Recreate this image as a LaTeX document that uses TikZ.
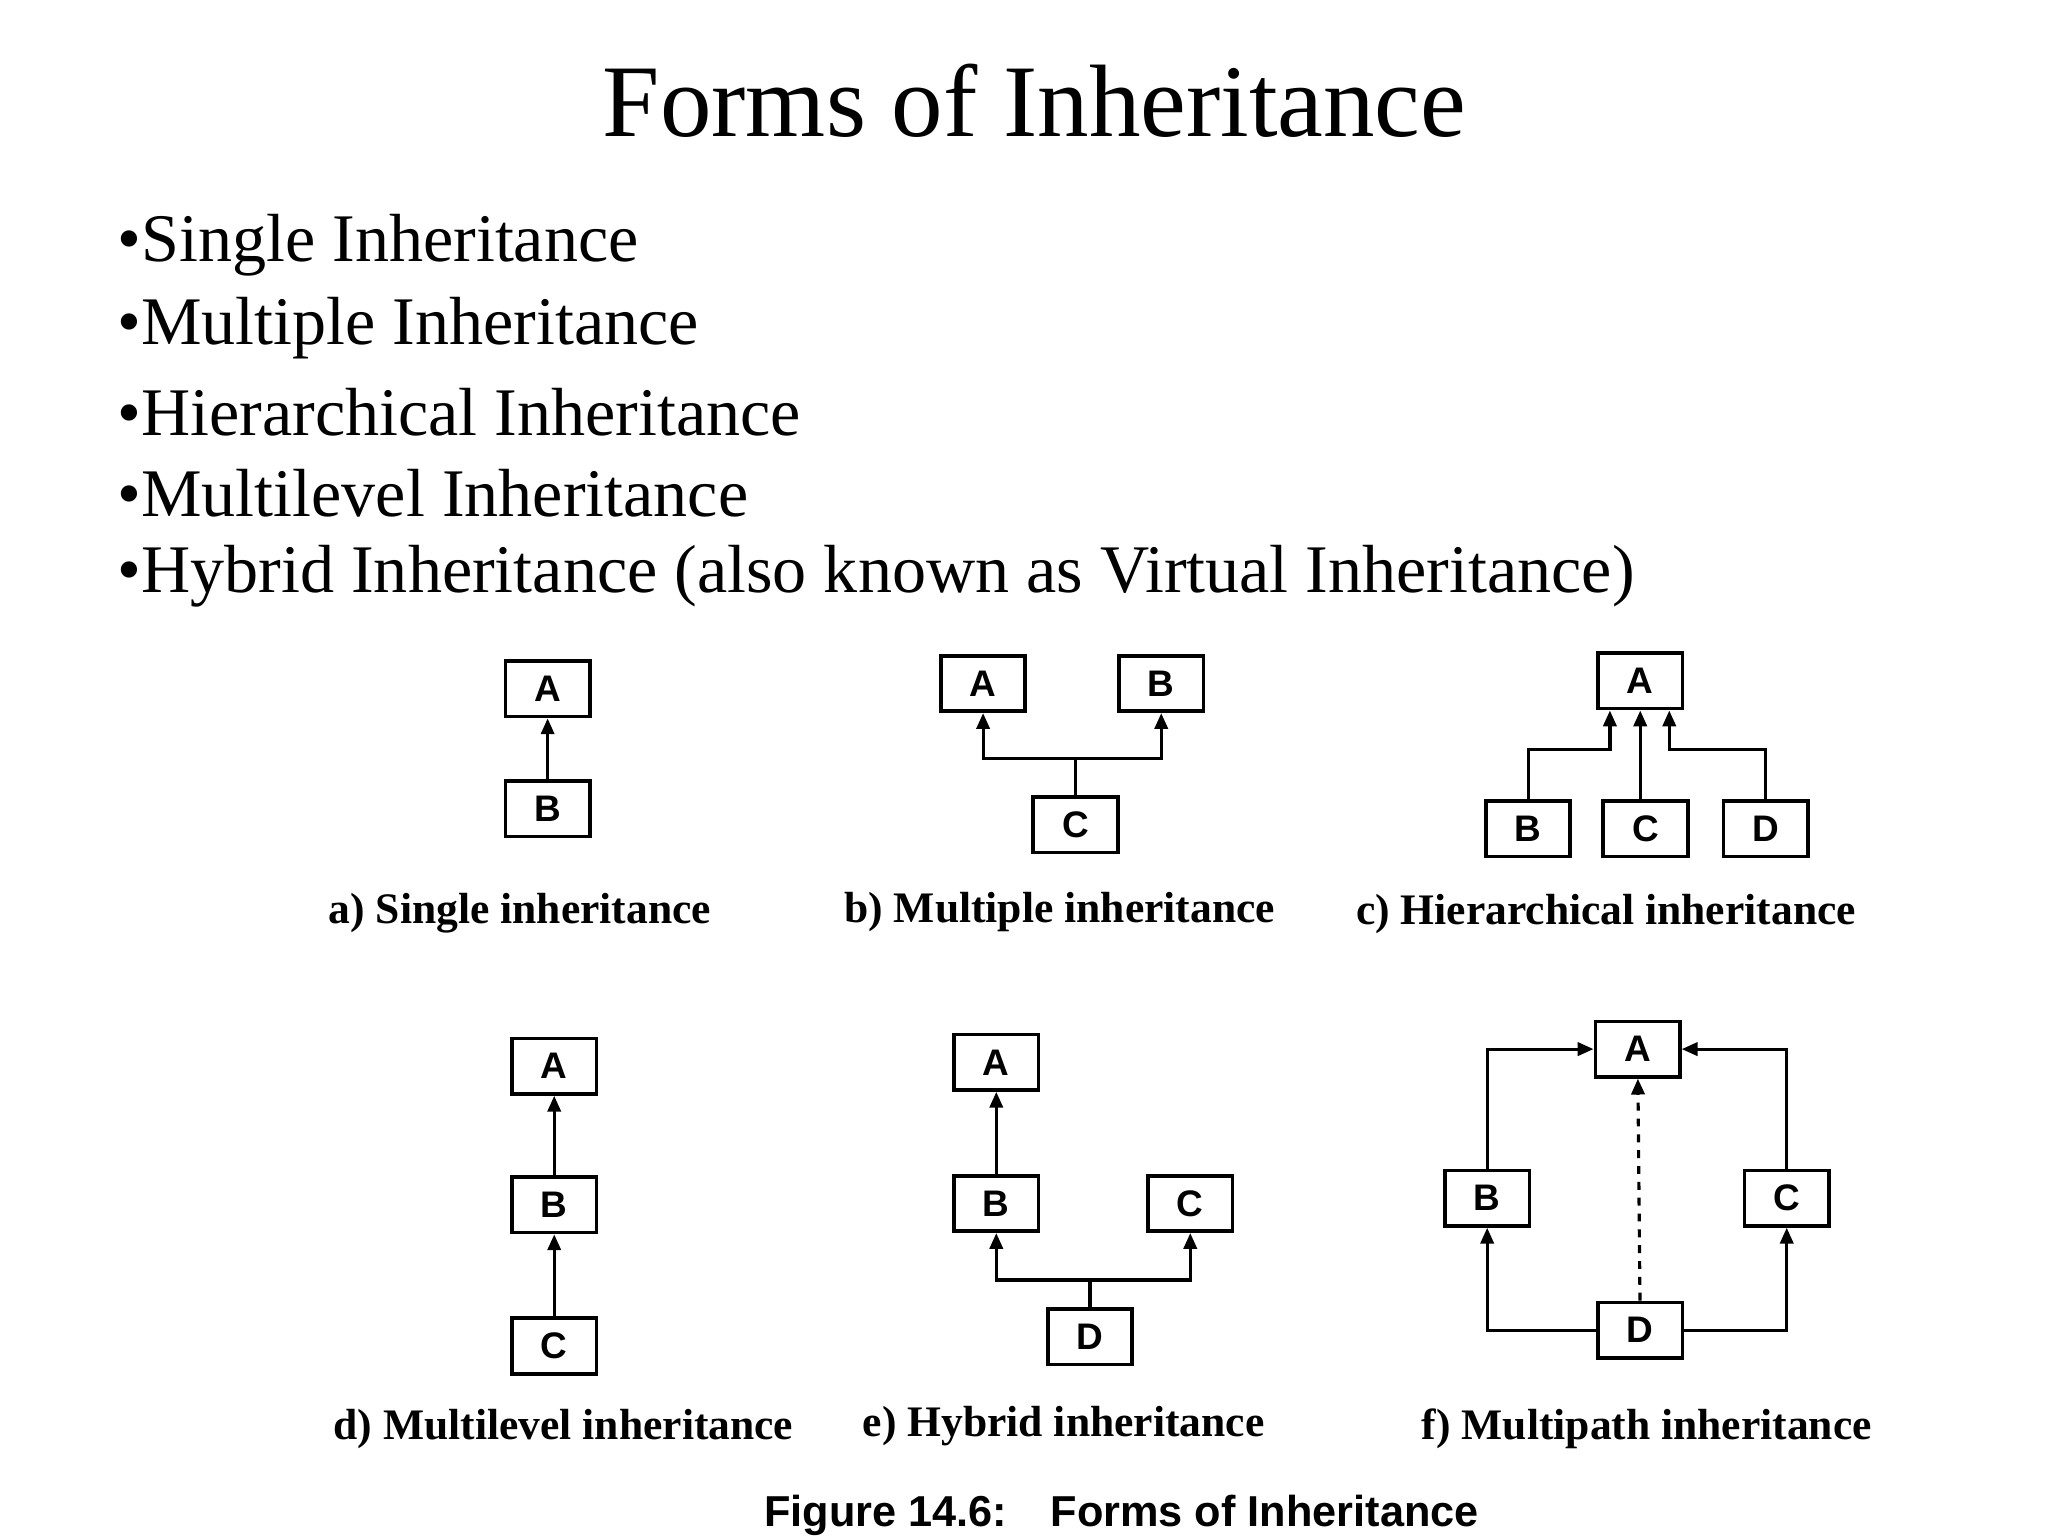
\documentclass[tikz,border=0pt]{standalone}
\usepackage{fontspec}
\setmainfont{Liberation Serif}
\setsansfont{Liberation Sans}
\usetikzlibrary{arrows.meta}
\begin{document}
\begin{tikzpicture}[x=0.5pt,y=-0.5pt,
  cls/.style={draw,line width=1.4pt,minimum width=32pt,minimum height=21pt,inner sep=0pt,font=\sffamily\bfseries\fontsize{14}{14}\selectfont},
  ln/.style={line width=1.2pt},
  ar/.style={ln,-{Triangle[length=6pt,width=5pt]}},
  lab/.style={font=\bfseries\fontsize{16.5}{16.5}\selectfont},
  bul/.style={anchor=west,font=\fontsize{25.8}{25.8}\selectfont}]
\useasboundingbox (0,0) rectangle (1552,1164);
\node[font=\fontsize{39}{39}\selectfont] (title) at (784,76) {Forms of Inheritance};
\node[bul] (l1) at (82,186) {•Single Inheritance};
\node[bul] (l2) at (82,249) {•Multiple Inheritance};
\node[bul] (l3) at (82,312) {•Hierarchical Inheritance};
\node[bul] (l4) at (82,374) {•Multilevel Inheritance};
\node[bul] (l5) at (82,437) {•Hybrid Inheritance (also known as Virtual Inheritance)};
% a
\node[cls] (aA) at (415,522) {A};
\node[cls] (aB) at (415,613) {B};
\draw[ar] (aB) -- (aA);
\node[lab] (la) at (394,692) {a) Single inheritance};
% b
\node[cls] (bA) at (745,518) {A};
\node[cls] (bB) at (880,518) {B};
\node[cls] (bC) at (815,625) {C};
\coordinate (bj) at (815,575);
\draw[ln] (bC) -- (bj);
\draw[ar] (bj) -| (bA.south);
\draw[ar] (bj) -| (bB.south);
\node[lab] (lb) at (803,691) {b) Multiple inheritance};
% c
\node[cls] (cA) at (1243,516) {A};
\node[cls] (cB) at (1158,628) {B};
\node[cls] (cC) at (1247,628) {C};
\node[cls] (cD) at (1338,628) {D};
\coordinate (cb1) at (1220,568);
\coordinate (cd1) at (1265,568);
\draw[ar] (cB.north) |- (cb1) -- (cA.south -| cb1);
\draw[ar] (cC.north -| cA.south) -- (cA.south);
\draw[ar] (cD.north) |- (cd1) -- (cA.south -| cd1);
\node[lab] (lc) at (1217,693) {c) Hierarchical inheritance};
% d
\node[cls] (dA) at (420,808) {A};
\node[cls] (dB) at (420,913) {B};
\node[cls] (dC) at (420,1020) {C};
\draw[ar] (dB) -- (dA);
\draw[ar] (dC) -- (dB);
\node[lab] (ld) at (427,1083) {d) Multilevel inheritance};
% e
\node[cls] (eA) at (755,805) {A};
\node[cls] (eB) at (755,912) {B};
\node[cls] (eC) at (902,912) {C};
\node[cls] (eD) at (826,1013) {D};
\draw[ar] (eB) -- (eA);
\coordinate (ej) at (826,970);
\draw[ln] (eD) -- (ej);
\draw[ar] (ej) -| (eB.south);
\draw[ar] (ej) -| (eC.south);
\node[lab] (le) at (806,1081) {e) Hybrid inheritance};
% f
\node[cls] (fA) at (1241,795) {A};
\node[cls] (fB) at (1127,908) {B};
\node[cls] (fC) at (1354,908) {C};
\node[cls] (fD) at (1243,1008) {D};
\draw[ar] (fB.north) |- (fA.west);
\draw[ar] (fC.north) |- (fA.east);
\draw[ar] (fD.west) -| (fB.south);
\draw[ar] (fD.east) -| (fC.south);
\draw[ar,dashed] (fD) -- (fA);
\node[lab] (lf) at (1248,1083) {f) Multipath inheritance};
\node[font=\sffamily\bfseries\fontsize{16.4}{16.4}\selectfont] (cap) at (850,1148) {Figure 14.6:\quad Forms of Inheritance};
\end{tikzpicture}
\end{document}
